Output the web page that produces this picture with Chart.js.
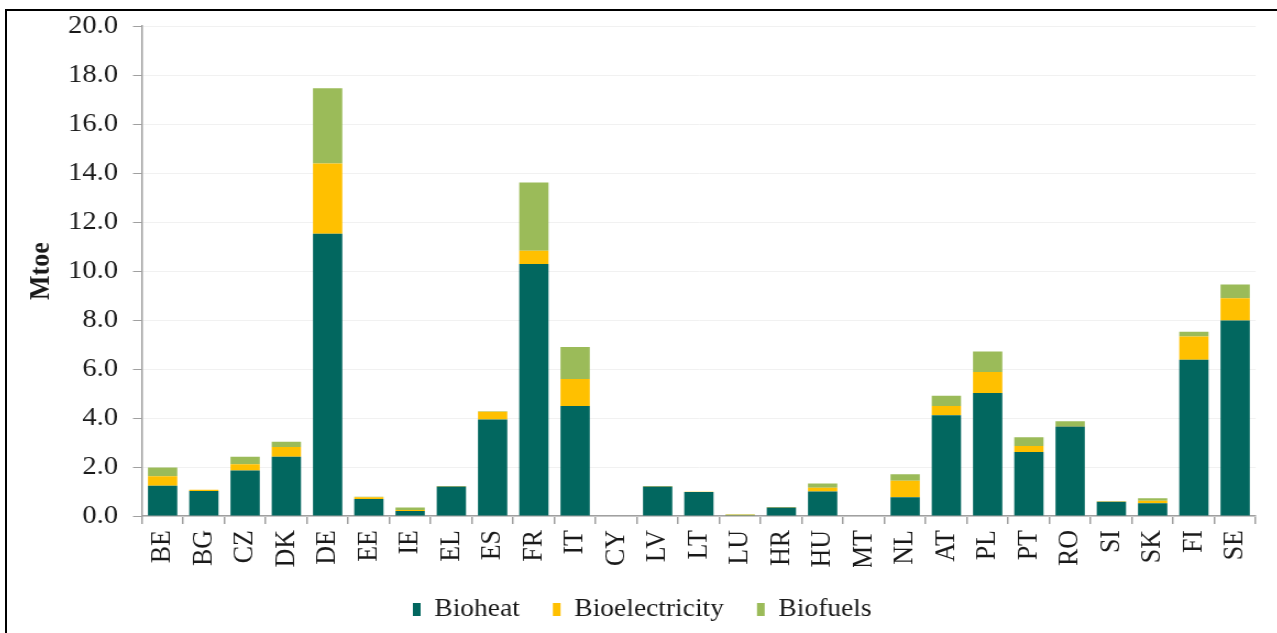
<!DOCTYPE html>
<html>
<head>
<meta charset="utf-8">
<script src="https://cdn.jsdelivr.net/npm/chart.js@4"></script>
<style>
  html, body { margin: 0; padding: 0; background: #fff; overflow: hidden; }
  body { width: 1277px; height: 633px; position: relative; }
  .frame { position: absolute; left: 5px; top: 9px; right: 0; bottom: 0; border-top: 2px solid #000; border-left: 2px solid #000; z-index: 2; pointer-events: none; }
  .wrap { position: absolute; left: 7px; top: -3px; width: 1154px; height: 635px; transform: scaleX(1.1); transform-origin: left top; }
</style>
</head>
<body>
<div class="wrap"><canvas id="bioChart"></canvas></div>
<div class="frame"></div>
<script>
const countries = ['BE', 'BG', 'CZ', 'DK', 'DE', 'EE', 'IE', 'EL', 'ES', 'FR', 'IT', 'CY', 'LV', 'LT',
                   'LU', 'HR', 'HU', 'MT', 'NL', 'AT', 'PL', 'PT', 'RO', 'SI', 'SK', 'FI', 'SE'];
const bioheat        = [1.24, 1.02, 1.86, 2.42, 11.53, 0.69, 0.20, 1.20, 3.94, 10.29, 4.49, 0, 1.20, 0.98,
                        0.03, 0.35, 1.00, 0, 0.77, 4.11, 5.02, 2.61, 3.65, 0.58, 0.52, 6.38, 7.98];
const bioelectricity = [0.38, 0.05, 0.25, 0.40, 2.86, 0.08, 0.05, 0.02, 0.32, 0.54, 1.10, 0, 0.02, 0.01,
                        0.02, 0.02, 0.15, 0, 0.67, 0.38, 0.86, 0.25, 0.03, 0.02, 0.10, 0.95, 0.91];
const biofuels       = [0.36, 0, 0.31, 0.21, 3.08, 0.02, 0.10, 0, 0.02, 2.79, 1.31, 0, 0, 0,
                        0.02, 0, 0.18, 0, 0.26, 0.42, 0.84, 0.36, 0.19, 0, 0.10, 0.19, 0.56];
const yTicks = [0, 2, 4, 6, 8, 10, 12, 14, 16, 18, 20];

const serif = "'Liberation Serif', 'Times New Roman', serif";
const textColor = '#1a1a1a';
const axisGray = '#a0a0a0';

// nudge the legend a bit to the right, like the original
const legendShift = {
    id: 'legendShift',
    afterLayout(chart) {
        chart.legend.left += 9;
        chart.legend.right += 9;
    }
};

const ctx = document.getElementById('bioChart').getContext('2d');
new Chart(ctx, {
    type: 'bar',
    data: {
        labels: countries,
        datasets: [
            { label: 'Bioheat', data: bioheat, backgroundColor: '#02675f' },
            { label: 'Bioelectricity', data: bioelectricity, backgroundColor: '#ffc000' },
            { label: 'Biofuels', data: biofuels, backgroundColor: '#9bbb59' }
        ]
    },
    options: {
        responsive: true,
        maintainAspectRatio: false,
        animation: false,
        datasets: { bar: { barPercentage: 0.71, categoryPercentage: 1.0 } },
        layout: { padding: { top: 0, right: 17, left: 0, bottom: 0 } },
        plugins: {
            tooltip: { enabled: false },
            legend: {
                position: 'bottom',
                labels: {
                    font: { family: serif, size: 25 },
                    color: textColor,
                    boxWidth: 7,
                    boxHeight: 13,
                    padding: 30
                }
            }
        },
        scales: {
            x: {
                stacked: true,
                afterFit: function(s) { s.height = 51; },
                border: { color: axisGray, width: 1.5 },
                grid: { offset: true, drawOnChartArea: false, tickLength: 8, tickColor: axisGray, lineWidth: 1.5 },
                ticks: {
                    font: { family: serif, size: 26 },
                    color: textColor,
                    minRotation: 90,
                    maxRotation: 90,
                    padding: 6,
                    autoSkip: false
                }
            },
            y: {
                stacked: true,
                min: 0,
                max: 20,
                afterFit: function(s) { s.width = 122.7; },
                afterBuildTicks: function(s) { s.ticks = yTicks.map(v => ({ value: v })); },
                border: { color: axisGray, width: 1.5 },
                grid: { color: '#f1f1f1', tickColor: axisGray, tickLength: 8.2, lineWidth: 1 },
                ticks: {
                    font: { family: serif, size: 26 },
                    color: textColor,
                    padding: 13.6,
                    callback: v => v.toFixed(1)
                },
                title: {
                    display: true,
                    text: 'Mtoe',
                    font: { family: serif, size: 26, weight: 'bold' },
                    color: textColor,
                    padding: { top: 16, bottom: 0 }
                }
            }
        }
    },
    plugins: [legendShift]
});
</script>
</body>
</html>
